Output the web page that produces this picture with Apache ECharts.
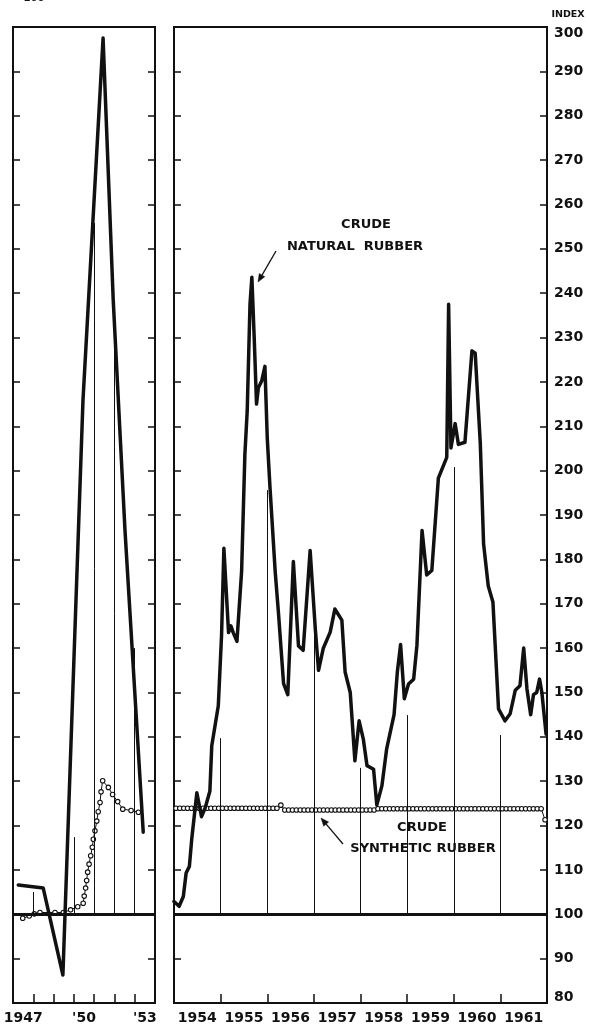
<!DOCTYPE html>
<html><head><meta charset="utf-8">
<script src="https://cdn.jsdelivr.net/npm/echarts/dist/echarts.min.js"></script>
<style>html,body{margin:0;padding:0;background:#fff}#c{width:589px;height:1026px}</style>
</head><body><div id="c"></div>
<script>
// ---------- DATA ----------
const leftYearLabels = ['1947', '', '', "'50", '', '', "'53"];
const rightYearLabels = ['1954', '1955', '1956', '1957', '1958', '1959', '1960', '1961'];

// Crude natural rubber, 1947-1953 (annual-ish vertices)
const natLeftYears  = [1947.26, 1948.49, 1949.46, 1950.45, 1951.44, 1951.94, 1952.52, 1953.42];
const natLeftValues = [106.6, 105.9, 86.3, 215.9, 297.5, 238.5, 186.6, 118.5];

// Crude synthetic rubber, 1947-1953
const synLeftYears  = [1947.48, 1947.80, 1948.05, 1948.33, 1949.07, 1949.48, 1949.84, 1950.19, 1950.46,
  1950.51, 1950.58, 1950.63, 1950.68, 1950.75, 1950.83, 1950.91, 1950.96, 1951.04, 1951.13, 1951.20,
  1951.29, 1951.34, 1951.42, 1951.70, 1951.91, 1952.16, 1952.41, 1952.82, 1953.18];
const synLeftValues = [99.1, 99.6, 100.1, 100.4, 100.4, 100.4, 101.0, 101.7, 102.5,
  104.1, 105.9, 107.6, 109.5, 111.3, 113.2, 115.1, 116.9, 118.8, 121.0, 123.1,
  125.2, 127.6, 130.1, 128.6, 127.0, 125.4, 123.7, 123.4, 123.0];

// Crude natural rubber, 1954-1961
const natRightYears = [1954.00,1954.11,1954.20,1954.26,1954.33,1954.38,1954.49,1954.59,1954.67,1954.77,
  1954.81,1954.88,1954.95,1955.02,1955.07,1955.17,1955.22,1955.27,1955.35,1955.45,
  1955.52,1955.57,1955.63,1955.67,1955.72,1955.77,1955.81,1955.88,1955.95,1956.00,
  1956.06,1956.17,1956.24,1956.35,1956.44,1956.56,1956.67,1956.77,1956.92,1957.03,
  1957.10,1957.20,1957.35,1957.45,1957.60,1957.67,1957.78,1957.88,1957.97,1958.06,
  1958.14,1958.28,1958.35,1958.46,1958.56,1958.72,1958.79,1958.86,1958.94,1959.03,
  1959.14,1959.21,1959.32,1959.42,1959.53,1959.67,1959.85,1959.89,1959.94,1960.03,
  1960.10,1960.24,1960.39,1960.46,1960.57,1960.64,1960.74,1960.84,1960.96,1961.10,
  1961.21,1961.32,1961.42,1961.50,1961.57,1961.65,1961.71,1961.78,1961.84,1961.89,
  1961.98];
const natRightValues = [102.9,101.8,104,109.3,110.8,116.9,127.4,122,124,127.8,
  138,142.5,147,162.9,182.5,163.5,165,163.5,161.5,177.3,
  203.6,213.4,237.5,243.6,230,215,218.7,220.2,223.5,207.4,
  196,177.3,168,152,149.5,179.5,160.5,159.5,182,164.4,
  155,159.9,163.6,168.8,166.3,154.6,150,134.6,143.6,139.5,
  133.5,132.7,124.6,129,137.2,145,154.6,160.8,148.6,151.9,
  153,160.6,186.5,176.5,177.5,198.3,203,237.5,205.1,210.6,
  205.9,206.4,227,226.5,206,183.5,174,170.4,146.3,143.6,
  145.2,150.5,151.5,160,150.8,145,149.5,150,153,150,
  140.6];

// Crude synthetic rubber, monthly Jan 1954 - Dec 1961
const synRightStartYear = 1954;
const synRightMonthly = [
  123.9,123.9,123.9,123.9,123.9,123.9,123.9,123.9,123.9,123.9,123.9,123.9,
  123.9,123.9,123.9,123.9,123.9,123.9,123.9,123.9,123.9,123.9,123.9,123.9,
  123.9,123.9,123.9,124.6,123.5,123.5,123.5,123.5,123.5,123.5,123.5,123.5,
  123.5,123.5,123.5,123.5,123.5,123.5,123.5,123.5,123.5,123.5,123.5,123.5,
  123.5,123.5,123.5,123.5,123.8,123.8,123.8,123.8,123.8,123.8,123.8,123.8,
  123.8,123.8,123.8,123.8,123.8,123.8,123.8,123.8,123.8,123.8,123.8,123.8,
  123.8,123.8,123.8,123.8,123.8,123.8,123.8,123.8,123.8,123.8,123.8,123.8,
  123.8,123.8,123.8,123.8,123.8,123.8,123.8,123.8,123.8,123.8,123.8,121.3];

// January vertical rules, from 100 up toward the curve
const dropLeftYears = [1948, 1950, 1951, 1952, 1953];
const dropLeftTops  = [105, 117.4, 255.8, 235.5, 160];
const dropRightYears = [1955, 1956, 1957, 1958, 1959, 1960, 1961];
const dropRightTops  = [139.7, 195.6, 169.7, 133, 144.9, 200.8, 140.4];

const BASE = 100;

// ---------- CHART ----------
const INK = '#111';
const FONT = 'DejaVu Sans';
const chart = echarts.init(document.getElementById('c'), null, {renderer: 'canvas'});

const zip = (a, b) => a.map((v, i) => [v, b[i]]);
const synRightData = synRightMonthly.map((v, i) => [synRightStartYear + (i + 0.5) / 12, v]);
const drops = (ys, tops) => ys.map((y, i) => [{coord: [y, BASE]}, {coord: [y, tops[i]]}]);

function yAx(grid, pos, labels) {
  return {
    type: 'value', gridIndex: grid, position: pos, min: 80, max: 300, interval: 10,
    axisLine: {show: false}, splitLine: {show: false},
    axisTick: {show: true, inside: true, length: 7, lineStyle: {color: INK, width: 1.5}},
    axisLabel: labels ? {
      show: true, margin: 7, color: INK,
      formatter: v => v === 300 ? '{t|300}' : (v === 80 ? '{b|80}' : '{n|' + v + '}'),
      rich: {
        t: {fontFamily: FONT, fontWeight: 'bold', fontSize: 14, color: INK, padding: [12, 0, 0, 0]},
        b: {fontFamily: FONT, fontWeight: 'bold', fontSize: 14, color: INK, padding: [0, 0, 12, 0]},
        n: {fontFamily: FONT, fontWeight: 'bold', fontSize: 14, color: INK}
      }
    } : {show: false}
  };
}
function catAx(grid, labels) {
  return {
    type: 'category', gridIndex: grid, position: 'bottom', data: labels, boundaryGap: true,
    axisLine: {show: false}, splitLine: {show: false},
    axisTick: {show: true, inside: true, length: 9, interval: 0, lineStyle: {color: INK, width: 1.5}},
    axisLabel: {interval: 0, margin: 8, color: INK, fontFamily: FONT, fontWeight: 'bold', fontSize: 14}
  };
}
function valX(grid, min, max) {
  return {type: 'value', gridIndex: grid, position: 'top', min: min, max: max, show: false,
    splitLine: {show: false}};
}
const natStyle = {color: INK, width: 3.5, join: 'round', cap: 'round'};
const synSeries = (xi, yi, data) => ({
  type: 'line', xAxisIndex: xi, yAxisIndex: yi, data: data, symbol: 'circle', symbolSize: 4.5,
  showAllSymbol: true, itemStyle: {color: '#fff', borderColor: INK, borderWidth: 1.1},
  lineStyle: {color: INK, width: 1}, z: 4, silent: true
});
const natSeries = (xi, yi, data, dropData) => ({
  type: 'line', xAxisIndex: xi, yAxisIndex: yi, data: data, symbol: 'none', showSymbol: false,
  lineStyle: natStyle, z: 5, silent: true,
  markLine: {
    silent: true, symbol: 'none', label: {show: false}, animation: false,
    data: [
      {yAxis: BASE, lineStyle: {color: INK, width: 3, type: 'solid'}},
      ...dropData.map(d => [Object.assign({}, d[0], {lineStyle: {color: INK, width: 1, type: 'solid'}}), d[1]])
    ],
    lineStyle: {color: INK, width: 1, type: 'solid'}
  }
});

const gridCommon = {show: true, borderColor: INK, borderWidth: 2, backgroundColor: 'transparent', containLabel: false, outerBoundsMode: 'none'};

chart.setOption({
  animation: false,
  backgroundColor: '#fff',
  grid: [
    Object.assign({left: 13, top: 27, width: 142, height: 976}, gridCommon),
    Object.assign({left: 174, top: 27, width: 373, height: 976}, gridCommon)
  ],
  xAxis: [
    valX(0, 1947, 1954),
    valX(1, 1954, 1962),
    catAx(0, leftYearLabels),
    catAx(1, rightYearLabels)
  ],
  yAxis: [
    yAx(0, 'left', false),
    yAx(0, 'right', false),
    yAx(1, 'left', false),
    yAx(1, 'right', true)
  ],
  series: [
    natSeries(0, 0, zip(natLeftYears, natLeftValues), drops(dropLeftYears, dropLeftTops)),
    synSeries(0, 0, zip(synLeftYears, synLeftValues)),
    natSeries(1, 2, zip(natRightYears, natRightValues), drops(dropRightYears, dropRightTops)),
    synSeries(1, 2, synRightData)
  ]
});

// ---------- ANNOTATIONS ----------
function arrow(tail, tip) {
  const dx = tip[0] - tail[0], dy = tip[1] - tail[1];
  const L = Math.hypot(dx, dy), ux = dx / L, uy = dy / L;
  const hl = 8, hw = 3.2;
  const bx = tip[0] - ux * hl, by = tip[1] - uy * hl;
  return [
    {type: 'polyline', shape: {points: [tail, [bx, by]]}, style: {stroke: INK, lineWidth: 1.3, fill: null}, z: 20},
    {type: 'polygon', shape: {points: [tip, [bx - uy * hw, by + ux * hw], [bx + uy * hw, by - ux * hw]]},
      style: {fill: INK, stroke: INK, lineWidth: 0.5}, z: 20}
  ];
}
const txt = (x, y, s, size, align) => ({
  type: 'text', x: x, y: y, z: 20,
  style: {text: s, fill: INK, font: 'bold ' + size + 'px "' + FONT + '"', textAlign: align || 'center', textVerticalAlign: 'middle'}
});

chart.setOption({
  graphic: [
    txt(568, 15, 'INDEX', 9.5),
    txt(28, -2, '= 100', 10),
    txt(366, 225, 'CRUDE', 13),
    txt(355, 247, 'NATURAL  RUBBER', 13),
    txt(422, 828, 'CRUDE', 13),
    txt(423, 849, 'SYNTHETIC RUBBER', 13),
    ...arrow([276, 251], [258, 282]),
    ...arrow([343, 844], [321, 818])
  ]
});
</script>
</body></html>
